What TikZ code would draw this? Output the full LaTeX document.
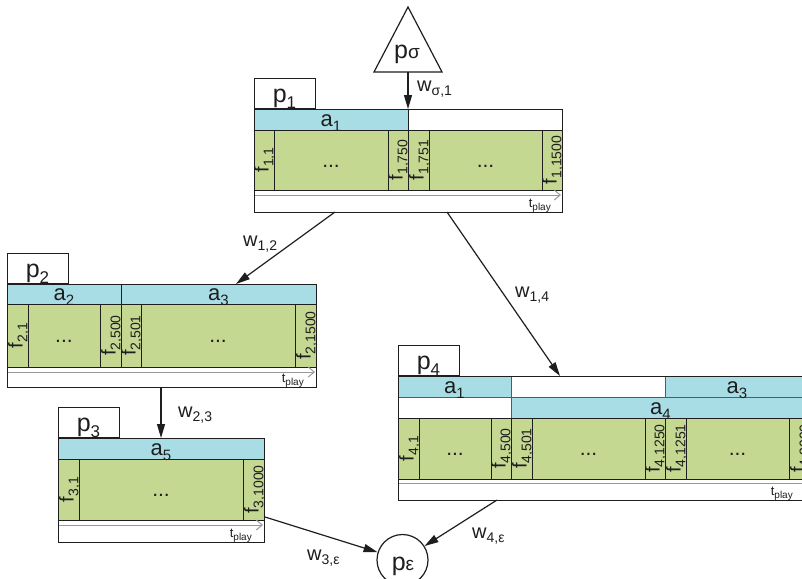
\documentclass[tikz,border=0pt]{standalone}
\usepackage{fontspec}
\setmainfont{Liberation Sans}
\usetikzlibrary{arrows.meta}
\definecolor{cy}{RGB}{168,221,230}
\definecolor{gr}{RGB}{197,216,146}
\definecolor{ln}{RGB}{30,30,30}
\newcommand\lbl[4]{{\fontsize{#1}{#1}\selectfont #3\raisebox{-0.24em}{\fontsize{#2}{#2}\selectfont #4}}}
\newcommand\plb[1]{\lbl{25}{17}{p}{#1}}
\newcommand\alb[1]{\lbl{22}{15}{a}{#1}}
\newcommand\flb[1]{\lbl{20}{14}{f}{#1}}
\newcommand\wlb[1]{\lbl{20}{14}{w}{#1}}
\newcommand\tpl{\lbl{13}{10}{t}{play}}
\tikzset{
  outer/.style={draw=ln, line width=1.3pt, inner sep=0pt, anchor=north west},
  tabbox/.style={draw=ln, line width=1.3pt, inner sep=0pt, anchor=south west, fill=white, minimum width=61pt, minimum height=30pt},
  inl/.style={draw=ln, line width=0.8pt},
  grl/.style={draw=gray!70!black, line width=0.8pt},
  tline/.style={draw=gray!80, line width=1pt, -{Straight Barb[length=6pt,width=10pt]}},
  txt/.style={anchor=base, inner sep=0pt, text=ln},
  flab/.style={xshift=-1.5pt, rotate=90, anchor=base, inner sep=0pt, text=ln},
  dts/.style={anchor=base, inner sep=0pt, font=\fontsize{21}{21}\selectfont, text=ln},
  wlab/.style={anchor=base west, inner sep=0pt, text=ln},
  tlab/.style={anchor=base east, inner sep=0pt, text=ln},
  arr/.style={draw=ln, line width=1.2pt, -{Triangle[length=14pt,width=8pt]}}
}
\begin{document}
\begin{tikzpicture}[x=1pt,y=-1pt]
\useasboundingbox (0,0) rectangle (802,578);
\clip (0,0) rectangle (802,578);
\fill[white] (0,0) rectangle (802,578);

% ---------- p sigma ----------
\draw[ln, line width=1.2pt, fill=white] (408,7) -- (442,72) -- (374,72) -- cycle;
\coordinate (ps) at (408,72);
\node[txt] (pslab) at (407,59) {{\fontsize{25}{25}\selectfont p}{\fontsize{19}{19}\selectfont σ}};

% ---------- p1 ----------
\fill[white] (254,109) rectangle (562,212);
\fill[cy] (254,109) rectangle (408,130);
\fill[gr] (254,130) rectangle (562,190);
\draw[inl] (254,130) -- (562,130);
\draw[inl] (254,190) -- (562,190);
\foreach \x in {274,388,542} \draw[inl] (\x,130) -- (\x,190);
\draw[inl] (408,109) -- (408,190);
\draw[inl] (429,130) -- (429,190);
\draw[tline] (254,195) -- (561,195);
\node[txt] (a1p1) at (331,126) {\alb{1}};
\node[dts] (d11) at (331,167) {...};
\node[dts] (d12) at (485.5,167) {...};
\node[flab] (f11) at (270,160) {\flb{1,1}};
\node[flab] (f1750) at (404,160) {\flb{1,750}};
\node[flab] (f1751) at (425,160) {\flb{1,751}};
\node[flab] (f11500) at (558,160) {\flb{1,1500}};
\node[tlab] (t1) at (551,207) {\tpl};
\node[outer, minimum width=308pt, minimum height=103pt] (p1) at (254,109) {};
\node[tabbox] (p1t) at (254,109) {};
\node[txt] (p1lab) at (284.5,102) {\plb{1}};

% ---------- p2 ----------
\fill[white] (7,284) rectangle (316,387);
\fill[cy] (7,284) rectangle (316,304);
\fill[gr] (7,304) rectangle (316,367);
\draw[inl] (7,304) -- (316,304);
\draw[inl] (7,367) -- (316,367);
\foreach \x in {28,100,141,295} \draw[inl] (\x,304) -- (\x,367);
\draw[inl] (121,284) -- (121,367);
\draw[tline] (7,372) -- (315,372);
\node[txt] (a2) at (64,300) {\alb{2}};
\node[txt] (a3p2) at (218.5,300) {\alb{3}};
\node[dts] (d21) at (64,342) {...};
\node[dts] (d22) at (218,342) {...};
\node[flab] (f21) at (24,335.5) {\flb{2,1}};
\node[flab] (f2500) at (117,335.5) {\flb{2,500}};
\node[flab] (f2501) at (137,335.5) {\flb{2,501}};
\node[flab] (f21500) at (312,335.5) {\flb{2,1500}};
\node[tlab] (t2) at (304,382) {\tpl};
\node[outer, minimum width=309pt, minimum height=103pt] (p2) at (7,284) {};
\node[tabbox] (p2t) at (7,284) {};
\node[txt] (p2lab) at (37.5,277) {\plb{2}};

% ---------- p3 ----------
\fill[white] (58,438) rectangle (264,542);
\fill[cy] (58,438) rectangle (264,459);
\fill[gr] (58,459) rectangle (264,520);
\draw[inl] (58,459) -- (264,459);
\draw[inl] (58,520) -- (264,520);
\foreach \x in {79,243} \draw[inl] (\x,459) -- (\x,520);
\draw[tline] (58,525) -- (263,525);
\node[txt] (a5) at (161,455) {\alb{5}};
\node[dts] (d31) at (161,496) {...};
\node[flab] (f31) at (75,489.5) {\flb{3,1}};
\node[flab] (f31000) at (260,489.5) {\flb{3,1000}};
\node[tlab] (t3) at (252,537) {\tpl};
\node[outer, minimum width=206pt, minimum height=104pt] (p3) at (58,438) {};
\node[tabbox] (p3t) at (58,438) {};
\node[txt] (p3lab) at (88.5,431) {\plb{3}};

% ---------- p4 ----------
\fill[white] (398,376) rectangle (810,500);
\fill[cy] (398,376) rectangle (511,397);
\fill[cy] (665,376) rectangle (810,397);
\fill[cy] (511,397) rectangle (810,418);
\fill[gr] (398,418) rectangle (810,479);
\draw[grl] (398,397) -- (810,397);
\draw[inl] (398,418) -- (810,418);
\draw[inl] (398,479) -- (810,479);
\draw[grl] (511,376) -- (511,418);
\draw[grl] (665,376) -- (665,397);
\foreach \x in {419,491,511,532,645,665,686,789} \draw[inl] (\x,418) -- (\x,479);
\draw[tline] (398,483) -- (809,483);
\node[txt] (a1p4) at (454.5,393) {\alb{1}};
\node[txt] (a3p4) at (737,393) {\alb{3}};
\node[txt] (a4) at (660.5,414) {\alb{4}};
\node[dts] (d41) at (455,455) {...};
\node[dts] (d42) at (588.5,455) {...};
\node[dts] (d43) at (737.5,455) {...};
\node[flab] (f41) at (415,448.5) {\flb{4,1}};
\node[flab] (f4500) at (507,448.5) {\flb{4,500}};
\node[flab] (f4501) at (528,448.5) {\flb{4,501}};
\node[flab] (f41250) at (661,448.5) {\flb{4,1250}};
\node[flab] (f41251) at (682,448.5) {\flb{4,1251}};
\node[flab] (f42000) at (806,448.5) {\flb{4,2000}};
\node[tlab] (t4) at (793,495) {\tpl};
\node[outer, minimum width=412pt, minimum height=124pt] (p4) at (398,376) {};
\node[tabbox] (p4t) at (398,376) {};
\node[txt] (p4lab) at (428.5,369) {\plb{4}};

% ---------- p epsilon ----------
\node[circle, draw=ln, line width=1.2pt, fill=white, minimum size=51pt, inner sep=0pt] (pe) at (402.5,560) {};
\node[txt] (pelab) at (403,570) {{\fontsize{25}{25}\selectfont p}{\fontsize{19}{19}\selectfont ε}};

% ---------- connectors ----------
\coordinate (p1o2) at (335,212);
\coordinate (p2i) at (236,284);
\coordinate (p1o4) at (447,212);
\coordinate (p4i) at (560,376);
\coordinate (p2o) at (161,387);
\coordinate (p3i) at (161,438);
\coordinate (p3o) at (265,517);
\coordinate (p4o) at (497,500);
\draw[arr] (ps) -- (ps |- p1.north);
\draw[arr] (p1o2) -- (p2i);
\draw[arr] (p1o4) -- (p4i);
\draw[arr] (p2o) -- (p3i);
\draw[arr] (p3o) -- (pe);
\draw[arr] (p4o) -- (pe);

\node[wlab] (ws1) at (417,91) {\wlb{σ,1}};
\node[wlab] (w12) at (243,246) {\wlb{1,2}};
\node[wlab] (w14) at (515,297) {\wlb{1,4}};
\node[wlab] (w23) at (178,417) {\wlb{2,3}};
\node[wlab] (w3e) at (307,560) {\wlb{3,ε}};
\node[wlab] (w4e) at (472,538) {\wlb{4,ε}};
\end{tikzpicture}
\end{document}
